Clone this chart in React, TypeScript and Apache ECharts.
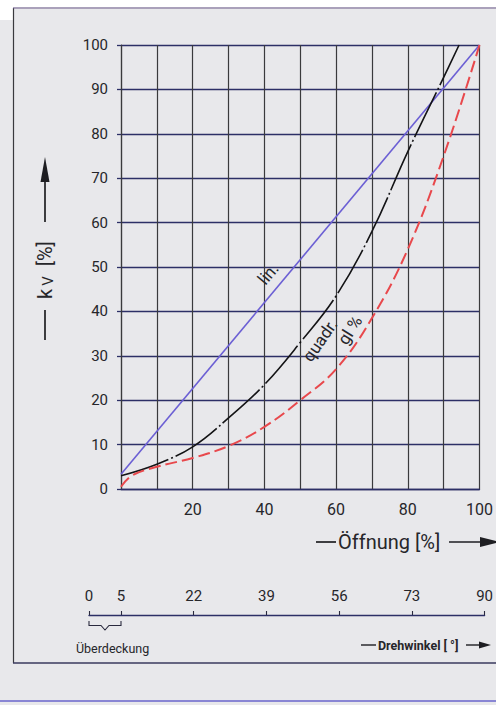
import React, { useEffect, useRef } from "react";
import * as echarts from "echarts";

// ---- data ----
const linX = [0, 100];
const linY = [3.3, 100];

const quadrX = [0, 10, 20, 30, 40, 50, 60, 70, 80, 90, 94.3];
const quadrY = [3, 5.6, 9.5, 16, 23.5, 33, 43.5, 58, 76, 92.7, 100];

const glX = [0, 3, 10, 20, 30, 40, 50, 60, 70, 80, 90, 100];
const glY = [0.5, 3, 5, 7, 9.7, 14, 20, 27, 38.5, 54, 75, 100];

const xTickLabels = [20, 40, 60, 80, 100];
const yTicks = [0, 10, 20, 30, 40, 50, 60, 70, 80, 90, 100];

// Drehwinkel scale: degree labels and the Öffnung position they sit at
const drehLabels = [0, 5, 22, 39, 56, 73, 90];
const drehAtOeffnung = [-8.8, 0, 20, 40, 60, 80, 100];

const curveLabels = [
  { text: "lin.", x: 41, y: 48.5, rot: 50 },
  { text: "quadr.", x: 55.5, y: 33.5, rot: 55 },
  { text: "gl %", x: 63.8, y: 35.8, rot: 58 },
];

const FONT = "Roboto, 'Noto Sans', sans-serif";
const TXT = "#26262a";
const NAVY = "#2c2f66";

const zip = (xs: number[], ys: number[]) => xs.map((x, i) => [x, ys[i]]);

export default function App() {
  const ref = useRef<HTMLDivElement>(null);
  useEffect(() => {
    if (!ref.current) return;
    const chart = echarts.init(ref.current, null, { renderer: "svg" });
    const arrowHead = (tipX: number, tipY: number, dir: "right" | "up", len: number, half: number) =>
      dir === "right"
        ? { type: "polygon", shape: { points: [[tipX, tipY], [tipX - len, tipY - half], [tipX - len, tipY + half]] }, style: { fill: "#1e1e22" } }
        : { type: "polygon", shape: { points: [[tipX, tipY], [tipX - half, tipY + len], [tipX + half, tipY + len]] }, style: { fill: "#1e1e22" } };
    const curveLabel = (i: number) => ({
      symbol: "circle", symbolSize: 0,
      data: [{
        coord: [curveLabels[i].x, curveLabels[i].y],
        label: {
          show: true, position: "inside", formatter: curveLabels[i].text, rotate: curveLabels[i].rot,
          fontFamily: FONT, fontSize: 17, color: TXT,
        },
      }],
    });
    const option: any = {
      animation: false,
      backgroundColor: "transparent",
      graphic: [
        { type: "rect", z: -10, shape: { x: 0, y: 7, width: 496, height: 698 }, style: { fill: "#e8e8eb" } },
        { type: "rect", z: -9, shape: { x: 0, y: 7, width: 13, height: 13 }, style: { fill: "#ffffff" } },
        // frame
        { type: "line", shape: { x1: 13.5, y1: 8, x2: 13.5, y2: 663 }, style: { stroke: "#3a3a3e", lineWidth: 1.2 } },
        { type: "line", shape: { x1: 13, y1: 8, x2: 496, y2: 8 }, style: { stroke: "#6d5a8a", lineWidth: 1 } },
        { type: "line", shape: { x1: 13, y1: 663, x2: 496, y2: 663 }, style: { stroke: "#3a3a5e", lineWidth: 1.3 } },
        { type: "line", shape: { x1: 0, y1: 701, x2: 496, y2: 701 }, style: { stroke: "#6a66cc", lineWidth: 1.5 } },
        // y-axis title
        { type: "line", shape: { x1: 45, y1: 310, x2: 45, y2: 340 }, style: { stroke: "#1e1e22", lineWidth: 1.7 } },
        {
          type: "text", x: 45, y: 270, rotation: Math.PI / 2,
          style: {
            text: "{k|k}{v|V}{b|  [%]}", align: "center", verticalAlign: "middle",
            rich: {
              k: { fontFamily: FONT, fontSize: 20, fill: TXT },
              v: { fontFamily: FONT, fontSize: 15, fill: TXT, padding: [5, 0, 0, 3] },
              b: { fontFamily: FONT, fontSize: 20, fill: TXT },
            },
          },
        },
        { type: "line", shape: { x1: 45, y1: 180, x2: 45, y2: 222 }, style: { stroke: "#1e1e22", lineWidth: 1.7 } },
        arrowHead(45, 157, "up", 25, 4.5),
        // x-axis title
        { type: "line", shape: { x1: 316, y1: 542, x2: 336, y2: 542 }, style: { stroke: "#1e1e22", lineWidth: 1.7 } },
        { type: "text", x: 338, y: 542, style: { text: "Öffnung [%]", fontFamily: FONT, fontSize: 20, fill: TXT, align: "left", verticalAlign: "middle" } },
        { type: "line", shape: { x1: 449, y1: 542, x2: 482, y2: 542 }, style: { stroke: "#1e1e22", lineWidth: 1.7 } },
        arrowHead(500, 542, "right", 20, 5),
        // Überdeckung bracket
        {
          type: "polyline",
          shape: { points: [[89, 621], [89, 625.5], [101, 625.5], [105, 630], [109, 625.5], [121, 625.5], [121, 621]] },
          style: { stroke: "#2a2a3e", lineWidth: 1.1, fill: null },
        },
        { type: "text", x: 76, y: 648, style: { text: "Überdeckung", fontFamily: FONT, fontSize: 12.5, fill: TXT, align: "left", verticalAlign: "middle" } },
        // Drehwinkel title
        { type: "line", shape: { x1: 361, y1: 645, x2: 376, y2: 645 }, style: { stroke: "#1e1e22", lineWidth: 1.4 } },
        { type: "text", x: 378, y: 645, style: { text: "Drehwinkel [ °]", fontFamily: FONT, fontSize: 12.5, fontWeight: "bold", fill: TXT, align: "left", verticalAlign: "middle" } },
        { type: "line", shape: { x1: 466, y1: 645, x2: 480, y2: 645 }, style: { stroke: "#1e1e22", lineWidth: 1.4 } },
        arrowHead(491, 645, "right", 12, 3.5),
      ],
      grid: [
        { left: 121, top: 45, width: 365, height: 444 },
        { left: 89, top: 614, width: 397, height: 1 },
      ],
      xAxis: [
        {
          type: "value", gridIndex: 0, min: 0, max: 100, interval: 10,
          axisLine: { show: true, lineStyle: { color: NAVY, width: 1.4 } },
          axisTick: { show: false },
          axisLabel: {
            margin: 12, fontFamily: FONT, fontSize: 16, color: TXT,
            formatter: (v: number) => (xTickLabels.indexOf(v) >= 0 ? String(v) : ""),
          },
          splitLine: { show: true, lineStyle: { color: "#3a3a3c", width: 1.2 } },
        },
        {
          type: "value", gridIndex: 1, min: drehAtOeffnung[0], max: 100, position: "bottom",
          axisLine: { show: true, lineStyle: { color: NAVY, width: 1.4 } },
          axisTick: { show: true, inside: true, length: 4, customValues: drehAtOeffnung, lineStyle: { color: "#2a2a3e", width: 1.1 } },
          axisLabel: {
            inside: true, margin: 12, fontFamily: FONT, fontSize: 15, color: TXT,
            customValues: drehAtOeffnung, showMinLabel: true, showMaxLabel: true,
            formatter: (v: number) => {
              const i = drehAtOeffnung.findIndex((p) => Math.abs(p - v) < 0.01);
              return i >= 0 ? String(drehLabels[i]) : "";
            },
          },
          splitLine: { show: false },
        },
      ],
      yAxis: [
        {
          type: "value", gridIndex: 0, min: 0, max: 100, interval: 10,
          axisLine: { show: true, lineStyle: { color: "#3a3a3c", width: 1.2 } },
          axisTick: { show: true, length: 4, lineStyle: { color: NAVY, width: 1.3 } },
          axisLabel: {
            margin: 13, fontFamily: FONT, fontSize: 15, color: TXT,
            formatter: (v: number) => (yTicks.indexOf(v) >= 0 ? String(v) : ""),
          },
          splitLine: { show: true, lineStyle: { color: NAVY, width: 1.3 } },
        },
        { type: "value", gridIndex: 1, show: false, min: 0, max: 1 },
      ],
      series: [
        {
          name: "lin.", type: "line", xAxisIndex: 0, yAxisIndex: 0, data: zip(linX, linY),
          showSymbol: false, lineStyle: { color: "#6b5fd4", width: 1.6 }, z: 3,
          markPoint: curveLabel(0),
        },
        {
          name: "quadr.", type: "line", xAxisIndex: 0, yAxisIndex: 0, data: zip(quadrX, quadrY),
          smooth: 0.4, showSymbol: false, z: 4,
          lineStyle: { color: "#141416", width: 1.6, type: [50, 3, 2, 3] },
          markPoint: curveLabel(1),
        },
        {
          name: "gl %", type: "line", xAxisIndex: 0, yAxisIndex: 0, data: zip(glX, glY),
          smooth: 0.4, showSymbol: false, z: 5,
          lineStyle: { color: "#e8484c", width: 2, type: [12, 5] },
          markPoint: curveLabel(2),
        },
      ],
    };
    chart.setOption(option);
    return () => chart.dispose();
  }, []);
  return (
    <div
      ref={ref}
      style={{ position: "absolute", left: 0, top: 0, width: 496, height: 705, background: "#ffffff" }}
    />
  );
}
